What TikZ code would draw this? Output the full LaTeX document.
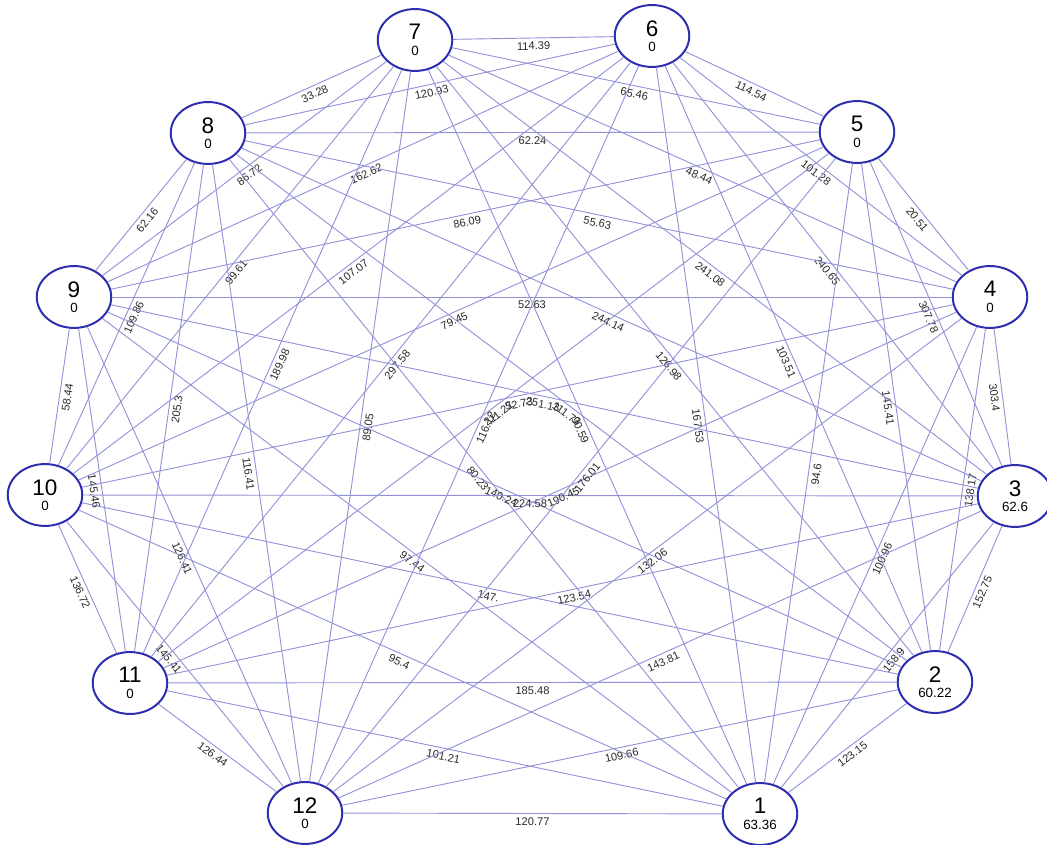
\documentclass[tikz,border=0pt]{standalone}
\usepackage{fontspec}
\setmainfont{Liberation Sans}
\usetikzlibrary{shapes.geometric}
\definecolor{vborder}{RGB}{45,45,175}
\definecolor{eline}{RGB}{145,145,215}
\definecolor{etext}{RGB}{40,40,40}
\tikzset{vertex/.style={ellipse,draw=vborder,line width=1.4pt,fill=white,minimum width=53pt,minimum height=44pt,inner sep=0pt,align=center}}
\tikzset{edge/.style={draw=eline,line width=0.65pt}}
\tikzset{elabel/.style={sloped,anchor=north,inner sep=2.6pt,text=etext,font=\fontsize{7.9}{7.9}\selectfont}}
\newcommand{\vtx}[2]{{\fontsize{16}{16}\selectfont #1}\\[-1pt]{\fontsize{9.5}{10}\selectfont #2}}

\begin{document}
\begin{tikzpicture}[x=0.025cm,y=-0.025cm]
        \useasboundingbox (0,0) rectangle (1047,845);

          %頂点
          \node[vertex] (v1) at (760,814) {\vtx{1}{63.36}};
          \node[vertex] (v2) at (935,682) {\vtx{2}{60.22}};
          \node[vertex] (v3) at (1015,496) {\vtx{3}{62.6}};
          \node[vertex] (v4) at (990,297) {\vtx{4}{0}};
          \node[vertex] (v5) at (857,132) {\vtx{5}{0}};
          \node[vertex] (v6) at (652,36) {\vtx{6}{0}};
          \node[vertex] (v7) at (415,40) {\vtx{7}{0}};
          \node[vertex] (v8) at (208,133) {\vtx{8}{0}};
          \node[vertex] (v9) at (74,297) {\vtx{9}{0}};
          \node[vertex] (v10) at (45,495) {\vtx{10}{0}};
          \node[vertex] (v11) at (130,683) {\vtx{11}{0}};
          \node[vertex] (v12) at (305,813) {\vtx{12}{0}};

          %となり同士
          \draw[edge] (v1) to node[elabel] {123.15} (v2);
          \draw[edge] (v2) to node[elabel] {152.75} (v3);
          \draw[edge] (v3) to node[elabel] {303.4} (v4);
          \draw[edge] (v4) to node[elabel] {20.51} (v5);
          \draw[edge] (v5) to node[elabel] {114.54} (v6);
          \draw[edge] (v6) to node[elabel] {114.39} (v7);
          \draw[edge] (v7) to node[elabel] {33.28} (v8);
          \draw[edge] (v8) to node[elabel] {62.16} (v9);
          \draw[edge] (v9) to node[elabel] {58.44} (v10);
          \draw[edge] (v10) to node[elabel] {136.72} (v11);
          \draw[edge] (v11) to node[elabel] {126.44} (v12);
          \draw[edge] (v12) to node[elabel] {120.77} (v1);

          %2つ先
          \draw[edge] (v1) to node[elabel] {158.9} (v3);
          \draw[edge] (v2) to node[elabel] {138.17} (v4);
          \draw[edge] (v3) to node[elabel] {307.78} (v5);
          \draw[edge] (v4) to node[elabel] {101.28} (v6);
          \draw[edge] (v5) to node[elabel] {65.46} (v7);
          \draw[edge] (v6) to node[elabel] {120.93} (v8);
          \draw[edge] (v7) to node[elabel] {86.72} (v9);
          \draw[edge] (v8) to node[elabel] {109.86} (v10);
          \draw[edge] (v9) to node[elabel] {145.46} (v11);
          \draw[edge] (v10) to node[elabel] {145.41} (v12);
          \draw[edge] (v11) to node[elabel] {101.21} (v1);
          \draw[edge] (v12) to node[elabel] {109.66} (v2);

          %3つ先
          \draw[edge] (v1) to node[elabel] {100.96} (v4);
          \draw[edge] (v2) to node[elabel] {145.41} (v5);
          \draw[edge] (v3) to node[elabel] {240.65} (v6);
          \draw[edge] (v4) to node[elabel] {48.44} (v7);
          \draw[edge] (v5) to node[elabel] {62.24} (v8);
          \draw[edge] (v6) to node[elabel] {162.62} (v9);
          \draw[edge] (v7) to node[elabel] {99.61} (v10);
          \draw[edge] (v8) to node[elabel] {205.3} (v11);
          \draw[edge] (v9) to node[elabel] {126.41} (v12);
          \draw[edge] (v10) to node[elabel] {95.4} (v1);
          \draw[edge] (v11) to node[elabel] {185.48} (v2);
          \draw[edge] (v12) to node[elabel] {143.81} (v3);

          %4つ先
          \draw[edge] (v1) to node[elabel] {94.6} (v5);
          \draw[edge] (v2) to node[elabel] {103.51} (v6);
          \draw[edge] (v3) to node[elabel] {241.08} (v7);
          \draw[edge] (v4) to node[elabel] {55.63} (v8);
          \draw[edge] (v5) to node[elabel] {86.09} (v9);
          \draw[edge] (v6) to node[elabel] {107.07} (v10);
          \draw[edge] (v7) to node[elabel] {189.98} (v11);
          \draw[edge] (v8) to node[elabel] {116.41} (v12);
          \draw[edge] (v9) to node[elabel] {97.44} (v1);
          \draw[edge] (v10) to node[elabel] {147.} (v2);
          \draw[edge] (v11) to node[elabel] {123.54} (v3);
          \draw[edge] (v12) to node[elabel] {132.06} (v4);

          %5つ先
          \draw[edge] (v1) to node[elabel] {167.53} (v6);
          \draw[edge] (v2) to node[elabel] {126.98} (v7);
          \draw[edge] (v3) to node[elabel] {244.14} (v8);
          \draw[edge] (v4) to node[elabel] {52.63} (v9);
          \draw[edge] (v5) to node[elabel] {79.45} (v10);
          \draw[edge] (v6) to node[elabel] {297.58} (v11);
          \draw[edge] (v7) to node[elabel] {89.05} (v12);
          \draw[edge] (v8) to node[elabel] {80.23} (v1);
          \draw[edge] (v9) to node[elabel] {140.24} (v2);
          \draw[edge] (v10) to node[elabel] {224.58} (v3);
          \draw[edge] (v11) to node[elabel] {190.45} (v4);
          \draw[edge] (v12) to node[elabel] {176.01} (v5);

          %向かい側
          \draw[edge] (v1) to node[elabel] {90.59} (v7);
          \draw[edge] (v2) to node[elabel] {111.73} (v8);
          \draw[edge] (v3) to node[elabel] {251.13} (v9);
          \draw[edge] (v4) to node[elabel] {52.73} (v10);
          \draw[edge] (v5) to node[elabel] {211.22} (v11);
          \draw[edge] (v6) to node[elabel] {116.12} (v12);

        \end{tikzpicture}
\end{document}
